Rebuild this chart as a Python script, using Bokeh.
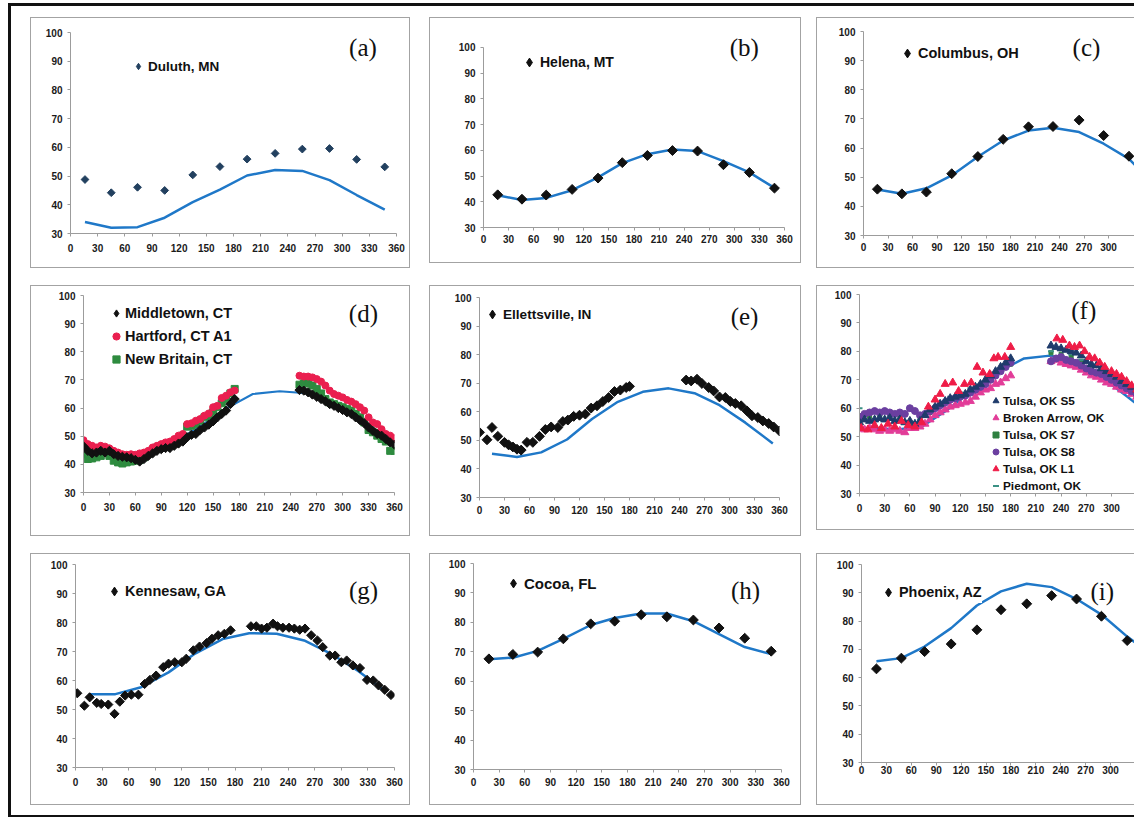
import math
from bokeh.plotting import figure
from bokeh.models import Range1d, FixedTicker, Legend, LegendItem, Label, Spacer
from bokeh.layouts import row, column
from bokeh.embed import file_html
from bokeh.resources import INLINE

# ---------------- data ----------------
X_TICKS = [0, 30, 60, 90, 120, 150, 180, 210, 240, 270, 300, 330, 360]
X_TICKS_CUT = [0, 30, 60, 90, 120, 150, 180, 210, 240, 270, 300]
Y_TICKS = [30, 40, 50, 60, 70, 80, 90, 100]

# (a) Duluth, MN
A_X = [16, 45, 74, 104, 135, 165, 195, 226, 256, 286, 316, 347]
A_OBS = [48.8, 44.2, 46.1, 45.0, 50.4, 53.3, 55.9, 57.9, 59.4, 59.6, 55.8, 53.2]
A_MODEL = [34.0, 32.0, 32.2, 35.5, 40.9, 45.3, 50.2, 52.1, 51.8, 48.6, 43.4, 38.3]

# (b) Helena, MT
B_X = [17, 46, 75, 106, 137, 166, 196, 226, 256, 287, 318, 348]
B_OBS = [42.7, 41.0, 42.6, 44.8, 49.2, 55.2, 58.0, 59.9, 59.7, 54.4, 51.4, 45.3]
B_MODEL = [42.5, 40.7, 41.5, 44.5, 49.5, 55.0, 58.5, 60.3, 59.7, 55.8, 51.4, 45.4]

# (c) Columbus, OH
C_X = [17, 47, 77, 108, 140, 171, 202, 232, 264, 294, 325]
C_OBS = [45.9, 44.3, 44.9, 51.2, 57.1, 63.0, 67.3, 67.4, 69.6, 64.3, 57.2]
C_MX = [17, 47, 77, 108, 140, 171, 202, 232, 264, 294, 325, 335]
C_MODEL = [45.8, 44.3, 46.2, 50.6, 57.0, 62.6, 66.0, 67.0, 65.5, 61.5, 56.3, 53.4]

# (d) Connecticut
D_X = [0, 5, 10, 15, 20, 25, 30, 35, 40, 45, 50, 55, 60, 65, 70, 75, 80, 85,
       90, 95, 100, 105, 110, 115, 120, 125, 130, 135, 140, 145, 150, 155, 160,
       165, 170, 175,
       250, 255, 260, 265, 270, 275, 280, 285, 290, 295, 300, 305, 310, 315,
       320, 325, 330, 335, 340, 345, 350, 355, 360]
D_MIDDLETOWN = [46.4, 44.8, 43.9, 44.2, 44.8, 44.2, 44.8, 43.6, 43.0, 42.7, 42.5, 42.2,
                41.6, 41.0, 41.9, 43.0, 43.9, 44.8, 45.4, 45.8, 45.8, 46.6, 47.4, 48.1,
                49.6, 50.5, 50.8, 52.2, 53.1, 54.1, 55.3, 56.7, 57.9, 59.1, 61.4, 63.2,
                66.4, 66.2, 65.6, 64.8, 64.0, 63.2, 62.4, 61.4, 60.8, 60.0, 59.3, 58.5,
                57.9, 56.7, 55.7, 54.6, 53.1, 51.9, 50.8, 50.2, 49.0, 47.8, 47.0]
D_HARTFORD = [48.6, 47.2, 46.6, 46.0, 46.6, 46.3, 45.7, 44.8, 44.2, 43.6, 43.4, 43.6,
              43.4, 43.9, 44.2, 44.8, 46.0, 46.6, 47.2, 47.8, 48.1, 49.0, 50.2, 50.8,
              54.3, 54.6, 55.5, 56.1, 57.3, 58.1, 60.3, 60.8, 63.6, 64.4, 65.6, 66.2,
              71.5, 71.2, 71.2, 70.9, 70.3, 69.4, 68.0, 66.2, 65.0, 64.4, 63.8, 62.9,
              62.3, 61.4, 60.3, 59.1, 56.7, 54.9, 54.3, 52.5, 50.8, 50.2, 49.3]
D_NEWBRITAIN = [43.6, 41.9, 42.1, 42.5, 43.0, 44.2, 43.0, 41.3, 40.7, 40.3, 40.7, 41.0,
                41.3, 41.5, 42.5, 43.9, 45.1, 46.0, 46.6, 47.0, 47.2, 48.1, 49.0, 50.2,
                53.4, 53.7, 54.3, 55.5, 56.7, 57.3, 58.5, 60.3, 61.7, 63.2, 65.2, 66.8,
                68.3, 68.8, 68.8, 68.0, 66.8, 65.2, 63.2, 62.0, 61.4, 60.8, 60.3, 59.7,
                59.1, 57.9, 56.7, 54.9, 52.2, 51.4, 50.2, 49.0, 48.1, 44.8, 44.8]
D_MX = [15, 45, 74, 105, 135, 166, 196, 227, 258, 288, 319, 349]
D_MODEL = [45.5, 43.7, 44.6, 48.0, 53.5, 60.0, 65.0, 66.0, 65.3, 61.5, 56.2, 49.8]

# (e) Ellettsville, IN
E_X = [0, 9, 15, 22, 30, 35, 40, 45, 50, 57, 64, 72, 79, 86, 94, 100, 106, 113,
       120, 127, 134, 141, 148, 155, 162, 169, 176, 180,
       248, 254, 261, 267, 275, 281, 288, 295, 301, 307, 314, 321, 327, 334,
       340, 347, 353, 360]
E_OBS = [52.8, 50.2, 54.5, 51.4, 49.3, 48.4, 47.7, 46.9, 46.6, 49.3, 49.3, 51.4,
         53.8, 54.7, 54.5, 56.6, 57.1, 58.4, 58.8, 59.2, 61.3, 62.1, 63.6, 65.0,
         67.1, 67.6, 68.5, 68.9,
         71.1, 70.8, 71.4, 69.9, 68.5, 67.3, 65.2, 65.0, 63.6, 62.9, 62.1, 60.3,
         58.6, 58.0, 56.8, 55.9, 54.7, 53.3]
E_MX = [15, 45, 74, 105, 135, 166, 196, 227, 258, 288, 319, 352]
E_MODEL = [45.3, 44.2, 45.8, 50.3, 57.5, 63.5, 67.0, 68.2, 66.5, 62.3, 56.2, 48.9]

# (f) Oklahoma
F_X6 = [0, 6, 12, 18, 24, 30, 36, 42, 48, 54, 60, 66, 72, 78, 84, 90, 96, 102,
        108, 114, 120, 126, 132, 138, 144, 150, 156, 162, 168, 174, 180,
        228, 234, 240, 246, 252, 258, 264, 270, 276, 282, 288, 294, 300, 306,
        312, 318, 324, 330]
F_S5 = [55.0, 56.0, 55.5, 56.0, 56.5, 56.0, 56.5, 55.5, 56.0, 55.0, 55.5, 54.5,
        55.5, 57.5, 59.5, 60.5, 61.5, 62.5, 63.5, 64.0, 64.5, 65.0, 66.5, 67.5,
        68.5, 70.0, 71.5, 73.0, 74.5, 76.0, 77.5,
        82.0, 81.5, 81.0, 80.5, 80.0, 79.5, 78.5, 76.5, 75.5, 75.0, 74.0, 73.0,
        72.0, 71.0, 69.5, 68.5, 67.5, 66.5]
F_BROKEN = [53.0, 52.5, 53.0, 52.5, 52.0, 52.5, 52.0, 52.5, 52.0, 51.5, 53.0, 53.0,
            53.5, 54.5, 56.0, 57.5, 58.5, 59.5, 60.5, 61.0, 61.5, 62.0, 62.5, 64.0,
            65.5, 66.5, 67.0, 68.5, 69.0, 70.5, 71.5,
            76.5, 77.0, 76.0, 75.5, 75.0, 74.5, 73.5, 72.5, 71.5, 71.0, 70.0, 69.0,
            68.5, 67.5, 66.5, 66.0, 65.0, 64.0]
F_S8 = [57.0, 58.0, 58.5, 59.0, 58.5, 59.0, 58.5, 58.0, 58.5, 58.0, 60.0, 59.0,
        57.5, 58.0, 59.0, 60.0, 61.0, 62.0, 63.0, 63.5, 64.0, 64.5, 65.5, 66.5,
        67.5, 68.5, 70.0, 71.5, 73.0, 74.5, 76.0,
        76.5, 77.5, 78.0, 77.0, 76.5, 76.0, 75.0, 74.0, 73.0, 72.5, 72.0, 71.0,
        70.0, 69.0, 68.0, 67.0, 66.0, 65.0]
F_X12 = [0, 12, 24, 36, 48, 60, 72, 84, 96, 108, 120, 132, 144, 156, 168, 180,
         228, 240, 252, 264, 276, 288, 300, 312, 324]
F_S7 = [56.0, 57.0, 57.5, 58.0, 57.5, 55.0, 55.5, 58.5, 61.0, 63.0, 64.0, 66.0,
        68.0, 70.5, 73.0, 75.5,
        79.5, 79.0, 78.0, 76.5, 74.0, 72.5, 70.5, 68.5, 66.5]
F_PIEDMONT = [60.0, 58.5, 57.5, 57.0, 56.5, 55.0, 56.0, 59.0, 62.0, 64.0, 65.5, 67.0,
              68.5, 71.0, 73.5, 76.0,
              80.0, 80.5, 79.0, 77.0, 75.0, 73.0, 71.0, 69.5, 67.5]
F_L1_X = [2, 10, 18, 26, 34, 42, 50, 58, 66, 74, 82, 90, 96, 102, 111, 118, 125,
          133, 140, 147, 155, 160, 165, 173, 180,
          235, 242, 250, 256, 262, 268, 274, 280, 286, 292, 300, 306, 312, 318, 324, 330]
F_L1 = [53.0, 52.5, 54.0, 53.0, 54.5, 53.5, 55.5, 54.0, 53.5, 55.0, 60.5, 63.0,
        65.0, 68.5, 69.0, 66.0, 68.5, 69.0, 74.5, 72.5, 72.0, 77.5, 78.0, 78.0, 81.5,
        84.5, 84.0, 82.0, 81.5, 82.0, 80.0, 78.0, 77.5, 76.0, 74.5, 73.0, 72.0,
        71.0, 69.5, 68.0, 66.5]
F_MX = [15, 45, 74, 105, 135, 166, 196, 227, 258, 288, 319, 349]
F_MODEL = [53.0, 52.5, 53.5, 59.5, 66.5, 73.0, 77.5, 78.5, 76.5, 71.0, 64.0, 57.0]

# (g) Kennesaw, GA
G_X = [2, 10, 16, 24, 29, 37, 44, 50, 56, 63, 71, 78, 84, 91, 99, 105, 112, 120,
       125, 133, 140, 148, 154, 161, 168, 175,
       198, 204, 210, 216, 223, 228, 234, 241, 247, 253, 259, 266, 273, 279,
       287, 293, 300, 306, 313, 321, 329, 336, 342, 349, 356]
G_OBS = [55.6, 51.3, 54.2, 52.3, 51.9, 51.7, 48.5, 52.7, 54.8, 55.1, 55.1, 58.8,
         60.2, 61.7, 64.6, 65.8, 66.3, 66.3, 67.5, 70.4, 71.7, 72.9, 74.4, 75.6,
         76.1, 77.3,
         78.7, 78.7, 77.9, 78.2, 79.6, 78.7, 78.2, 78.2, 77.9, 77.5, 77.9, 75.6,
         73.8, 71.5, 68.6, 68.6, 66.3, 66.9, 65.2, 64.3, 60.2, 60.0, 58.3, 56.8, 55.0]
G_MX = [15, 45, 74, 105, 135, 166, 196, 227, 258, 288, 319, 349]
G_MODEL = [55.3, 55.3, 57.7, 62.8, 69.3, 74.3, 76.3, 76.1, 73.8, 69.3, 63.3, 56.5]

# (h) Cocoa, FL
H_X = [18, 46, 75, 105, 137, 165, 196, 226, 257, 287, 317, 348]
H_OBS = [67.6, 69.1, 69.9, 74.4, 79.5, 80.4, 82.6, 81.9, 80.8, 78.1, 74.6, 70.2]
H_MODEL = [67.5, 68.0, 70.3, 74.4, 79.1, 81.5, 83.0, 83.0, 80.4, 76.0, 71.6, 69.2]

# (i) Phoenix, AZ
I_X = [18, 48, 76, 108, 139, 168, 199, 229, 259, 289, 320]
I_OBS = [63.1, 66.9, 69.2, 71.9, 76.9, 84.0, 86.1, 89.0, 87.8, 81.7, 73.1]
I_MX = [18, 48, 76, 108, 139, 168, 199, 229, 259, 289, 320, 350]
I_MODEL = [65.8, 66.9, 71.0, 77.5, 85.5, 90.5, 93.2, 92.0, 87.8, 82.3, 74.5, 68.0]

# ---------------- styling ----------------
BLUE = "#1f78c8"
BLACK = "#111111"
FONT = "Liberation Sans"
SERIF = "Liberation Serif"
BOX = "1px solid #a3a3a3"
DIAMOND = math.pi / 4


def panel(w, h, bl, br, bt, bb, xend, xstand, ytop=100, cut=False):
    p = figure(width=w, height=h, x_range=Range1d(0, xend), y_range=Range1d(30, ytop),
               output_backend="svg", toolbar_location=None, title=None,
               min_border_left=bl, min_border_right=br,
               min_border_top=bt - 1, min_border_bottom=bb + 1)
    p.xgrid.visible = False
    p.ygrid.visible = False
    p.outline_line_color = None
    for ax in (p.xaxis[0], p.yaxis[0]):
        ax.axis_line_color = "#9c9c9c"
        ax.major_tick_line_color = "#9c9c9c"
        ax.minor_tick_line_color = None
        ax.major_tick_out = 3
        ax.major_tick_in = 0
        ax.major_label_text_font = FONT
        ax.major_label_text_font_size = "10px"
        ax.major_label_text_font_style = "bold"
        ax.major_label_text_color = "#1a1a1a"
    p.xaxis.ticker = FixedTicker(ticks=X_TICKS_CUT if cut else X_TICKS)
    p.yaxis.ticker = FixedTicker(ticks=Y_TICKS)
    p.yaxis.bounds = (30, 100)
    p.xaxis.major_label_standoff = xstand
    p.yaxis.major_label_standoff = 5
    if cut:
        p.styles = {"border-top": BOX, "border-left": BOX, "border-bottom": BOX}
    else:
        p.styles = {"border": BOX}
    return p


def tag(p, x, y, text):
    p.add_layout(Label(x=x, y=y, text=text, text_font=SERIF, text_font_size="25px",
                       text_align="center", text_baseline="middle", text_color=BLACK))


def legend(p, items, loc, size_px, gw, gh, spacing=0, standoff=0, bg=False):
    leg = Legend(items=items, location=loc, margin=0, padding=0, spacing=spacing,
                 glyph_width=gw, glyph_height=gh, label_height=gh, label_width=10,
                 label_standoff=standoff, label_text_font=FONT,
                 label_text_font_size=size_px, label_text_font_style="bold",
                 label_text_color=BLACK, border_line_color=None,
                 background_fill_color="white", background_fill_alpha=1.0 if bg else 0.0)
    p.add_layout(leg, "center")


def model_line(p, x, y, width=2.5):
    p.line(x, y, line_color=BLUE, line_width=width)


def diamonds(p, x, y, color, size):
    """Observed values drawn as diamonds; returns a zero-size twin used as legend key."""
    p.scatter(x, y, marker="square", angle=DIAMOND, size=size,
              fill_color=color, line_color=color)
    return p.scatter(x, y, marker="diamond", size=0, fill_color=color, line_color=color)


RIGHT_W = 318

# (a)
pa = panel(380, 251, 39, 15, 15, 35, 360, 7)
model_line(pa, A_X, A_MODEL)
ra = diamonds(pa, A_X, A_OBS, "#22405f", 5.5)
legend(pa, [LegendItem(label="Duluth, MN", renderers=[ra])], (60, 159), "13.5px", 16, 16, standoff=2)
tag(pa, 323, 94.8, "(a)")

# (b)
pb = panel(372, 246, 53, 18, 17, 36, 360, 4, ytop=105)
model_line(pb, B_X, B_MODEL)
rb = diamonds(pb, B_X, B_OBS, BLACK, 7)
legend(pb, [LegendItem(label="Helena, MT", renderers=[rb])], (35, 154), "14px", 22, 22)
tag(pb, 312, 100, "(b)")

# (c)
pc = panel(RIGHT_W, 251, 46, 0, 14, 33, 333, 4, cut=True)
model_line(pc, C_MX, C_MODEL)
rc = diamonds(pc, C_X, C_OBS, BLACK, 7)
legend(pc, [LegendItem(label="Columbus, OH", renderers=[rc])], (33, 171), "14.5px", 22, 22)
tag(pc, 273, 94.5, "(c)")

# (d)
pd_ = panel(380, 251, 52, 17, 10, 44, 360, 7)
model_line(pd_, D_MX, D_MODEL, 2)
r_nb = pd_.scatter(D_X, D_NEWBRITAIN, marker="square", size=7, fill_color="#2e8b3f", line_color="#2e8b3f")
r_hf = pd_.scatter(D_X, D_HARTFORD, marker="circle", size=7, fill_color="#ea1f4f", line_color="#ea1f4f")
r_md = diamonds(pd_, D_X, D_MIDDLETOWN, BLACK, 6.5)
legend(pd_, [LegendItem(label="Middletown, CT", renderers=[r_md]),
             LegendItem(label="Hartford, CT A1", renderers=[r_hf]),
             LegendItem(label="New Britain, CT", renderers=[r_nb])],
       (24, 124), "14.5px", 18, 18, spacing=5)
tag(pd_, 324, 93.6, "(d)")

# (e)
pe = panel(372, 251, 49, 23, 12, 39, 360, 5)
model_line(pe, E_MX, E_MODEL)
re_ = diamonds(pe, E_X, E_OBS, BLACK, 7)
legend(pe, [LegendItem(label="Ellettsville, IN", renderers=[re_])], (2, 172), "13.6px", 22, 22)
tag(pe, 318, 93.4, "(e)")

# (f)
pf = panel(RIGHT_W, 245, 42, 0, 9, 37, 328.6, 7, cut=True)
model_line(pf, F_MX, F_MODEL)
r_s7 = pf.scatter(F_X12, F_S7, marker="square", size=4, fill_color="#2f8040", line_color="#2f8040")
r_pd = pf.scatter(F_X12, F_PIEDMONT, marker="dash", size=6, line_color="#3b9184", line_width=2)
r_ba = pf.scatter(F_X6, F_BROKEN, marker="triangle", size=8, fill_color="#e23c98", line_color="#e23c98")
r_s8 = pf.scatter(F_X6, F_S8, marker="circle", size=7, fill_color="#6b3fa0", line_color="#6b3fa0")
r_s5 = pf.scatter(F_X6, F_S5, marker="triangle", size=8, fill_color="#1f3b6b", line_color="#1f3b6b")
r_l1 = pf.scatter(F_L1_X, F_L1, marker="triangle", size=8, fill_color="#ef1c47", line_color="#ef1c47")
legend(pf, [LegendItem(label="Tulsa, OK S5", renderers=[r_s5]),
            LegendItem(label="Broken Arrow, OK", renderers=[r_ba]),
            LegendItem(label="Tulsa, OK S7", renderers=[r_s7]),
            LegendItem(label="Tulsa, OK S8", renderers=[r_s8]),
            LegendItem(label="Tulsa, OK L1", renderers=[r_l1]),
            LegendItem(label="Piedmont, OK", renderers=[r_pd])],
       (129, 0), "11.8px", 15, 15, spacing=2)
tag(pf, 267, 94.4, "(f)")

# (g)
pg = panel(380, 252, 44, 17, 11, 38, 360, 7)
model_line(pg, G_MX, G_MODEL)
rg = diamonds(pg, G_X, G_OBS, BLACK, 6.5)
legend(pg, [LegendItem(label="Kennesaw, GA", renderers=[rg])], (28, 165), "14.5px", 22, 22)
tag(pg, 325, 91, "(g)")

# (h)
ph = panel(372, 252, 43, 21, 10, 36, 360, 5)
model_line(ph, H_X, H_MODEL)
rh = diamonds(ph, H_X, H_OBS, BLACK, 7)
legend(ph, [LegendItem(label="Cocoa, FL", renderers=[rh])], (29, 175), "15px", 22, 22)
tag(ph, 318, 90.8, "(h)")

# (i)
pi_ = panel(RIGHT_W, 252, 44, 0, 11, 43, 330, 0, cut=True)
model_line(pi_, I_MX, I_MODEL)
ri = diamonds(pi_, I_X, I_OBS, BLACK, 7)
legend(pi_, [LegendItem(label="Phoenix, AZ", renderers=[ri])], (16, 159), "14.4px", 22, 22, bg=True)
tag(pi_, 290, 90.4, "(i)")


def grid_row(a, b, c):
    # each panel sits in its own one-child column so its frame is laid out on its own
    return row(Spacer(width=19, height=1), column(a), Spacer(width=19, height=1), column(b),
               Spacer(width=15, height=1), column(c))


page = column(Spacer(width=1, height=11), grid_row(pa, pb, pc),
              Spacer(width=1, height=17), grid_row(pd_, pe, pf),
              Spacer(width=1, height=17), grid_row(pg, ph, pi_),
              Spacer(width=1, height=10),
              styles={"border-left": "3px solid #111", "border-top": "3px solid #111",
                      "border-bottom": "2px solid #111"})
root = column(Spacer(width=1, height=3), row(Spacer(width=8, height=1), page))

open("out.html", "w").write(file_html(root, INLINE))
